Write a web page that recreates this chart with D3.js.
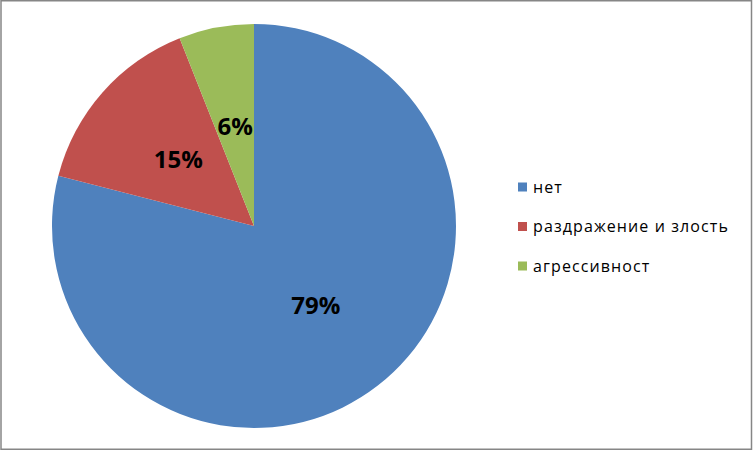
<!DOCTYPE html>
<html><head><meta charset="utf-8">
<script src="https://d3js.org/d3.v7.min.js"></script>
<style>body{margin:0;background:#fff}svg{display:block}</style>
</head><body>
<svg id="c" width="753" height="451"></svg>
<script>
const categories = ["нет", "раздражение и злость", "агрессивност"];
const values = [79, 15, 6];
const labels = ["79%", "15%", "6%"];
const colors = ["#4F81BD", "#C0504D", "#9BBB59"];

const svg = d3.select("#c");
svg.append("rect").attr("x",1).attr("y",0.75).attr("width",750.5).attr("height",448.5)
  .attr("fill","#fff").attr("stroke","#868686").attr("stroke-width",1.5);

const cx = 254, cy = 226, r = 202;
const pie = d3.pie().sort(null).value(d => d)(values);
const arc = d3.arc().innerRadius(0).outerRadius(r);
const labArc = d3.arc().innerRadius(r*0.5).outerRadius(r*0.5);
const g = svg.append("g").attr("transform",`translate(${cx},${cy})`);
g.selectAll("path").data(pie).join("path").attr("d",arc).attr("fill",(d,i)=>colors[i]);
g.selectAll("text").data(pie).join("text")
  .attr("transform",d=>`translate(${labArc.centroid(d)})`)
  .attr("text-anchor","middle").attr("dy","0.36em")
  .attr("font-family","Open Sans, sans-serif").attr("font-weight","bold").attr("font-size",24)
  .attr("fill","#000").text((d,i)=>labels[i]);

const ly = d3.scalePoint().domain(categories).range([187,266]);
const lg = svg.append("g");
lg.selectAll("rect").data(categories).join("rect")
  .attr("x",518).attr("y",d=>ly(d)-4.5).attr("width",9).attr("height",9).attr("fill",(d,i)=>colors[i]);
lg.selectAll("text").data(categories).join("text")
  .attr("x",533).attr("y",d=>ly(d)).attr("dy","0.35em")
  .attr("font-family","Open Sans, sans-serif").attr("font-size",16).attr("letter-spacing",1.1)
  .attr("fill","#000").text(d=>d);
</script>
</body></html>
